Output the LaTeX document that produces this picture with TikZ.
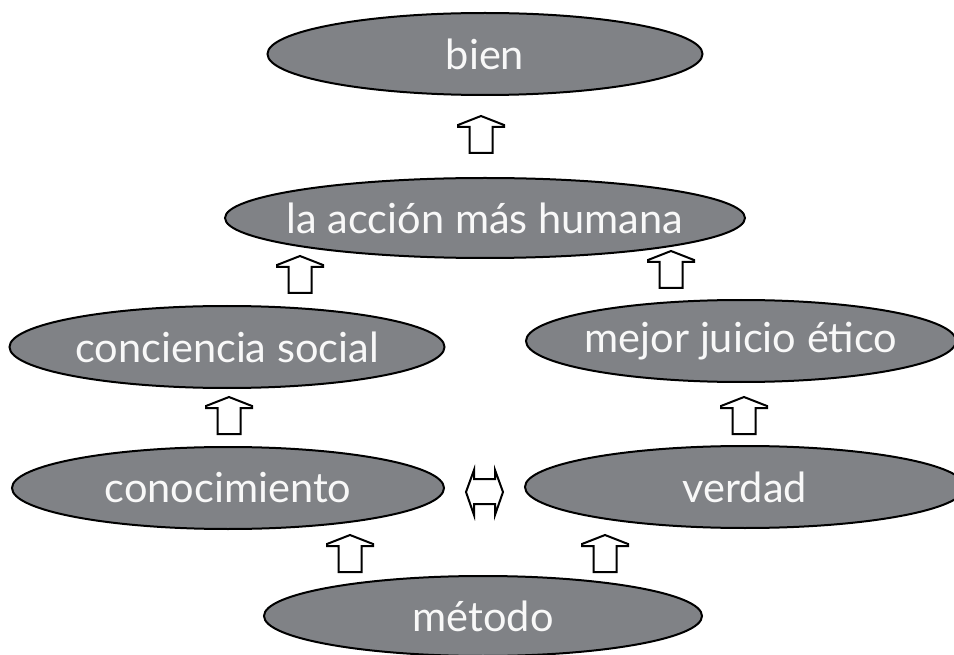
\documentclass[tikz,border=0pt]{standalone}
\usepackage{fontspec}
\setmainfont{Lato}
\usetikzlibrary{shapes.geometric}
\definecolor{ovalgray}{RGB}{128,130,134}
\definecolor{ovaltext}{RGB}{248,248,248}
\tikzset{
  oval/.style={ellipse, draw=black, line width=2pt, fill=ovalgray, text=ovaltext,
    inner sep=0pt, minimum width=435pt, minimum height=82pt,
    font=\fontsize{41.5pt}{44pt}\selectfont},
  blockarrow/.style={draw=black, fill=white, line width=2pt, line join=miter},
  uparrow/.pic={\path[blockarrow] (0,0) -- (23,9) -- (23,11) -- (11.5,11) -- (11.5,37)
     -- (-11.5,37) -- (-11.5,11) -- (-23,11) -- (-23,9) -- cycle;}
}
\newcommand{\ovtext}[1]{\makebox[0pt]{#1}}
\begin{document}
\begin{tikzpicture}[x=1pt,y=-1pt]
\useasboundingbox (0,0) rectangle (954,655);
\node[oval] (bien) at (485,54) {\ovtext{bien}};
\node[oval, minimum width=520pt, minimum height=80pt] (accion) at (485,218) {\ovtext{la acción más humana}};
\node[oval] (conciencia) at (227,347) {\ovtext{conciencia social}};
\node[oval, minimum width=430pt] (juicio) at (741,341) {\ovtext{mejor juicio ético}};
\node[oval, minimum width=432pt] (conoc) at (228,488) {\ovtext{conocimiento}};
\node[oval, minimum width=440pt] (verdad) at (745,487) {\ovtext{verdad}};
\node[oval, minimum width=438pt, minimum height=80pt] (metodo) at (483,616) {\ovtext{método}};
% block arrows
\coordinate (a1) at (481,116);
\coordinate (a2) at (300,256);
\coordinate (a3) at (671,251);
\coordinate (a4) at (229,397);
\coordinate (a5) at (744,397);
\coordinate (a6) at (350,535);
\coordinate (a7) at (605,535);
\foreach \c in {a1,a2,a3,a4,a5,a6,a7} \pic at (\c) {uparrow};
% double arrow
\coordinate (dl) at (466,492);
\coordinate (dr) at (503,492);
\path[blockarrow] (dl) -- (474,470) -- (474,479) -- (495,479) -- (495,470) -- (dr)
  -- (495,515) -- (495,504) -- (474,504) -- (474,515) -- cycle;
\end{tikzpicture}
\end{document}
